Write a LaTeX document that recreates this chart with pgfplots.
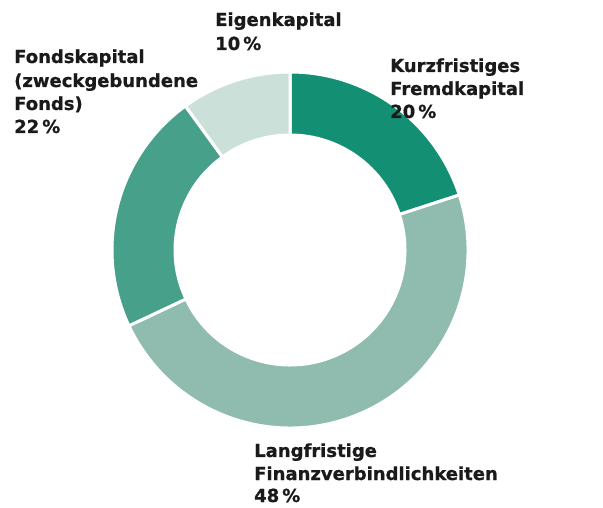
\documentclass[border=0pt]{standalone}
\usepackage{pgfplots}
\pgfplotsset{compat=1.18}
\usepackage{fontspec}
\setmainfont{DejaVu Sans}[BoldFeatures={FakeBold=0.8}]
\definecolor{c1}{HTML}{138F74}
\definecolor{c2}{HTML}{8FBCAE}
\definecolor{c3}{HTML}{47A08A}
\definecolor{c4}{HTML}{CCE0DA}
\definecolor{txt}{HTML}{1A1A1A}
\def\cx{290}\def\cy{258}\def\ro{178}\def\ri{115}
\newcommand\seg[2]{%
 \pgfmathsetmacro\sa{\cur}%
 \pgfmathsetmacro\ea{\cur-3.6*#1}%
 \xdef\cur{\ea}%
 \edef\temp{\noexpand\fill[#2, draw=white, line width=3bp] (axis cs:{\cx+\ro*cos(\sa)},{\cy+\ro*sin(\sa)}) arc[start angle=\sa, end angle=\ea, radius=\ro] -- (axis cs:{\cx+\ri*cos(\ea)},{\cy+\ri*sin(\ea)}) arc[start angle=\ea, end angle=\sa, radius=\ri] -- cycle;}%
 \temp}
\begin{document}
\begin{tikzpicture}
\begin{axis}[hide axis, scale only axis, width=603bp, height=508bp,
  xmin=0, xmax=603, ymin=0, ymax=508, clip=false]
\path (axis cs:0,0) rectangle (axis cs:603,508);
\xdef\cur{90}
% values in percent
\seg{20}{c1}
\seg{48}{c2}
\seg{22}{c3}
\seg{10}{c4}
\tikzset{lab/.style={anchor=base west, inner sep=0pt, text=txt, font=\bfseries\fontsize{18bp}{22bp}\selectfont}}
\node[lab] at (axis cs:215,482) {Eigenkapital};
\node[lab] at (axis cs:215,458) {10\,\%};
\node[lab] at (axis cs:14,445) {Fondskapital};
\node[lab] at (axis cs:14,421) {(zweckgebundene};
\node[lab] at (axis cs:14,398) {Fonds)};
\node[lab] at (axis cs:14,375) {22\,\%};
\node[lab] at (axis cs:390,436) {Kurzfristiges};
\node[lab] at (axis cs:390,413) {Fremdkapital};
\node[lab] at (axis cs:390,390) {20\,\%};
\node[lab] at (axis cs:254,51) {Langfristige};
\node[lab] at (axis cs:254,28) {Finanzverbindlichkeiten};
\node[lab] at (axis cs:254,6) {48\,\%};
\end{axis}
\end{tikzpicture}
\end{document}
